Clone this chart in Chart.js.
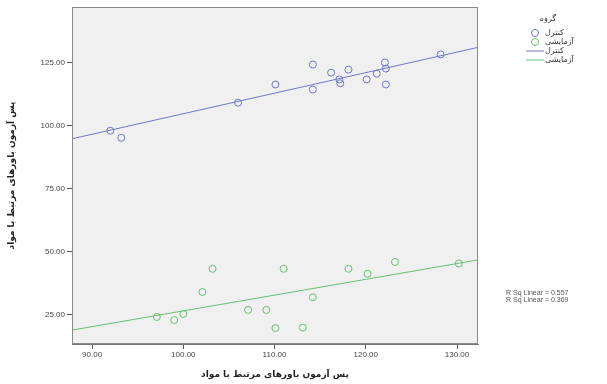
<!DOCTYPE html>
<html lang="fa">
<head>
<meta charset="UTF-8">
<title>پس آزمون باورهای مرتبط با مواد</title>
<script src="https://cdn.jsdelivr.net/npm/chart.js"></script>
<style>
    html, body { margin: 0; padding: 0; background: #fff; }
    .chart-container { width: 607px; height: 384px; }
</style>
</head>
<body>
<div class="chart-container">
    <canvas id="scatterChart"></canvas>
</div>
<script>
    // داده‌ها از روی تصویر خوانده شده
    const groupNames = ['کنترل', 'آزمایشی'];
    const legendTitle = 'گروه';
    const axisTitle = 'پس آزمون باورهای مرتبط با مواد';

    const controlX = [92.0, 93.2, 106.0, 110.1, 114.2, 114.2, 116.2, 117.1, 117.2, 118.1, 120.1, 121.2, 122.1, 122.2, 122.2, 128.2];
    const controlY = [98.0, 95.2, 109.1, 116.3, 124.2, 114.3, 121.0, 118.3, 116.8, 122.2, 118.3, 120.6, 125.0, 122.6, 116.3, 128.2];

    const expX = [97.1, 99.0, 100.0, 102.1, 103.2, 107.1, 109.1, 110.1, 111.0, 113.1, 114.2, 118.1, 120.2, 123.2, 130.2];
    const expY = [24.2, 23.0, 25.4, 34.1, 43.3, 27.0, 27.0, 19.8, 43.3, 20.0, 32.0, 43.3, 41.3, 46.0, 45.4];

    // خطوط برازش (دو سر خط در لبه‌های محور)
    const controlFitX = [87.8, 132.3];
    const controlFitY = [94.8, 131.0];
    const expFitX = [87.8, 132.3];
    const expFitY = [19.0, 46.8];

    const rSqLabels = ['R Sq Linear = 0.557', 'R Sq Linear = 0.369'];

    const xTicks = [90, 100, 110, 120, 130];
    const yTicks = [25, 50, 75, 100, 125];

    const blue = '#6e78c6';
    const green = '#66c272';

    const toPoints = (xs, ys) => xs.map((x, i) => ({ x: x, y: ys[i] }));

    const backgroundPlugin = {
        id: 'plotBackground',
        beforeDraw(chart) {
            const a = chart.chartArea;
            const ctx = chart.ctx;
            ctx.save();
            ctx.fillStyle = '#f0f0f0';
            ctx.fillRect(a.left, a.top, a.right - a.left, a.bottom - a.top);
            ctx.restore();
        },
        afterDraw(chart) {
            const a = chart.chartArea;
            const ctx = chart.ctx;
            ctx.save();
            ctx.strokeStyle = '#8a8a8a';
            ctx.lineWidth = 1;
            ctx.strokeRect(a.left + 0.5, a.top + 0.5, a.right - a.left - 1, a.bottom - a.top - 1);

            // راهنما
            ctx.font = '8px "DejaVu Sans", sans-serif';
            ctx.fillStyle = '#333';
            ctx.textBaseline = 'middle';
            ctx.textAlign = 'center';
            ctx.fillText(legendTitle, 548, 19);
            ctx.textAlign = 'left';
            const cols = [blue, green];
            for (let i = 0; i < 2; i++) {
                const y = 33 + i * 9;
                ctx.strokeStyle = cols[i];
                ctx.beginPath();
                ctx.arc(535, y, 3.5, 0, Math.PI * 2);
                ctx.stroke();
                ctx.fillText(groupNames[i], 545, y);
            }
            for (let i = 0; i < 2; i++) {
                const y = 51 + i * 9;
                ctx.strokeStyle = cols[i];
                ctx.beginPath();
                ctx.moveTo(526, y);
                ctx.lineTo(544, y);
                ctx.stroke();
                ctx.fillText(groupNames[i], 545, y);
            }

            ctx.font = '7px "Liberation Sans", Arial, sans-serif';
            ctx.fillStyle = '#555';
            rSqLabels.forEach((t, i) => ctx.fillText(t, 506, 293 + i * 7));
            ctx.restore();
        }
    };

    const ctx = document.getElementById('scatterChart').getContext('2d');
    new Chart(ctx, {
        type: 'scatter',
        data: {
            datasets: [
                {
                    label: groupNames[0],
                    data: toPoints(controlX, controlY),
                    borderColor: blue,
                    backgroundColor: 'rgba(0,0,0,0)',
                    pointRadius: 3.5,
                    borderWidth: 1
                },
                {
                    label: groupNames[1],
                    data: toPoints(expX, expY),
                    borderColor: green,
                    backgroundColor: 'rgba(0,0,0,0)',
                    pointRadius: 3.5,
                    borderWidth: 1
                },
                {
                    label: groupNames[0],
                    data: toPoints(controlFitX, controlFitY),
                    showLine: true,
                    borderColor: blue,
                    borderWidth: 1,
                    pointRadius: 0
                },
                {
                    label: groupNames[1],
                    data: toPoints(expFitX, expFitY),
                    showLine: true,
                    borderColor: green,
                    borderWidth: 1,
                    pointRadius: 0
                }
            ]
        },
        options: {
            responsive: true,
            maintainAspectRatio: false,
            animation: false,
            layout: { padding: { top: 7, right: 129, left: 0, bottom: 0 } },
            plugins: {
                legend: { display: false },
                tooltip: { enabled: false }
            },
            scales: {
                x: {
                    type: 'linear',
                    min: 87.8,
                    max: 132.3,
                    afterBuildTicks: axis => { axis.ticks = xTicks.map(v => ({ value: v })); },
                    afterFit: axis => { axis.height = 40; },
                    grid: { drawOnChartArea: false, drawTicks: true, tickLength: 5, color: '#555' },
                    border: { color: '#777' },
                    ticks: {
                        color: '#444',
                        font: { size: 8, family: '"Liberation Sans", Arial, sans-serif' },
                        padding: 1,
                        maxRotation: 0,
                        callback: v => v.toFixed(2)
                    },
                    title: {
                        display: true,
                        text: axisTitle,
                        color: '#222',
                        font: { size: 9, weight: 'bold', family: '"DejaVu Sans", sans-serif' },
                        padding: { top: 4, bottom: 4 }
                    }
                },
                y: {
                    type: 'linear',
                    min: 13.5,
                    max: 147,
                    afterBuildTicks: axis => { axis.ticks = yTicks.map(v => ({ value: v })); },
                    afterFit: axis => { axis.width = 72; },
                    grid: { drawOnChartArea: false, drawTicks: true, tickLength: 5, color: '#555' },
                    border: { color: '#777' },
                    ticks: {
                        color: '#444',
                        font: { size: 8, family: '"Liberation Sans", Arial, sans-serif' },
                        padding: 2,
                        callback: v => v.toFixed(2)
                    },
                    title: {
                        display: true,
                        text: axisTitle,
                        color: '#222',
                        font: { size: 9, weight: 'bold', family: '"DejaVu Sans", sans-serif' },
                        padding: { top: 6, bottom: 4 }
                    }
                }
            }
        },
        plugins: [backgroundPlugin]
    });
</script>
</body>
</html>
